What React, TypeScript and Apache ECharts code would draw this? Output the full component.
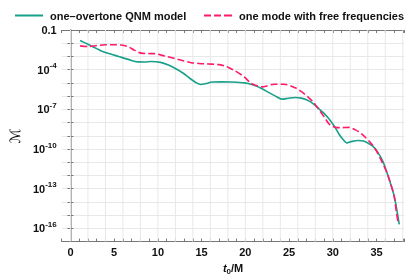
import React, { useEffect, useRef } from 'react';
import * as echarts from 'echarts';

// ---------- data (t0/M, log10 of mismatch) ----------
const tealT = [1.1, 2.0, 3.0, 3.6, 4.5, 5.5, 6.6, 7.7, 8.5, 9.2, 10.3, 11.2, 12.1, 12.9, 13.6, 14.3, 14.9, 15.5, 16.2, 17.3, 18.4, 19.9, 21.0, 21.8, 22.5, 23.4, 24.2, 24.9, 25.7, 26.4, 27.0, 27.7, 28.3, 29.0, 29.6, 30.2, 30.7, 31.2, 31.6, 32.2, 32.9, 33.5, 34.0, 34.6, 35.1, 35.7, 36.2, 36.6, 37.0, 37.3, 37.6];
const tealLog = [-1.79, -2.08, -2.41, -2.6, -2.8, -3.0, -3.22, -3.41, -3.42, -3.38, -3.45, -3.65, -3.95, -4.27, -4.63, -4.95, -5.12, -5.05, -4.93, -4.92, -4.93, -5.0, -5.17, -5.4, -5.66, -5.98, -6.23, -6.16, -6.1, -6.15, -6.28, -6.55, -6.89, -7.3, -7.75, -8.3, -8.86, -9.3, -9.54, -9.42, -9.35, -9.4, -9.54, -9.8, -10.2, -10.9, -11.8, -12.6, -13.5, -14.5, -15.7];

const pinkT = [1.1, 2.1, 3.0, 4.0, 5.0, 5.8, 6.6, 7.3, 8.1, 8.9, 9.6, 10.3, 11.0, 12.0, 12.9, 13.8, 14.7, 15.8, 17.0, 17.8, 18.4, 18.8, 19.9, 20.7, 22.0, 23.3, 24.4, 25.7, 26.5, 27.3, 27.9, 28.4, 29.0, 29.6, 30.3, 31.0, 31.8, 32.6, 33.3, 34.4, 35.0, 35.5, 36.2, 36.6, 37.0, 37.3, 37.45];
const pinkLog = [-2.2, -2.25, -2.17, -2.12, -2.11, -2.14, -2.27, -2.52, -2.75, -2.78, -2.79, -2.88, -3.0, -3.17, -3.33, -3.47, -3.53, -3.57, -3.62, -3.75, -3.95, -4.07, -4.56, -5.05, -5.3, -5.1, -5.1, -5.37, -5.7, -6.15, -6.55, -7.0, -7.55, -8.12, -8.36, -8.38, -8.36, -8.55, -8.86, -9.59, -10.15, -10.8, -11.8, -12.6, -13.5, -14.9, -15.45];

const xTickLabels = [0, 5, 10, 15, 20, 25, 30, 35];
const yLabelExps = [-1, -4, -7, -10, -13, -16];
const gridXs = [0, 2, 4, 6, 8, 10, 12, 14, 16, 18, 20, 22, 24, 26, 28, 30, 32, 34, 36, 38];

const seriesNames = ['one\u2013overtone QNM model', 'one mode with free frequencies'];

const TEAL = '#17a08a';
const PINK = '#ff1a6c';
const FONT = '"Liberation Sans", Arial, sans-serif';
const TXT = '#111';
const AX = '#777';
const GRID = '#e8e8e8';

export default function App() {
  const ref = useRef<HTMLDivElement>(null);
  useEffect(() => {
    const chart = echarts.init(ref.current!, null, { renderer: 'svg' });
    const xBase = {
      type: 'value' as const,
      min: -1,
      max: 38.2,
      interval: 1,
      axisLine: { show: true, lineStyle: { color: AX, width: 1 } },
      axisTick: { show: true, inside: true, length: 3, lineStyle: { color: AX } },
      splitLine: { show: false },
    };
    const yBase = {
      type: 'value' as const,
      min: -17,
      max: -1,
      interval: 1,
      axisLine: { show: true, lineStyle: { color: AX, width: 1 } },
      axisTick: { show: true, inside: true, length: 3, lineStyle: { color: AX } },
    };
    const legendText = { fontFamily: FONT, fontSize: 11, fontWeight: 'bold', color: TXT, padding: [0, 0, 0, 2] };
    const option: any = {
      animation: false,
      grid: { left: 51.7, right: 10.5, top: 30, bottom: 32.7, containLabel: false },
      legend: [
        {
          left: 10, top: 5, itemWidth: 28, itemHeight: 2, selectedMode: false,
          icon: 'path://M0,0h28v2h-28z',
          data: [seriesNames[0]],
          textStyle: legendText,
        },
        {
          left: 199, top: 5, itemWidth: 28, itemHeight: 2, selectedMode: false,
          icon: 'path://M0,0h7v2h-7zM10,0h7v2h-7zM20,0h8v2h-8z',
          data: [seriesNames[1]],
          textStyle: legendText,
        },
      ],
      xAxis: [
        {
          ...xBase,
          position: 'bottom',
          axisLabel: {
            show: true, margin: 5, fontFamily: FONT, fontSize: 11, fontWeight: 'bold', color: TXT,
            formatter: (v: number) => (xTickLabels.includes(Math.round(v)) && Math.abs(v - Math.round(v)) < 1e-6 ? String(Math.round(v)) : ''),
          },
          name: '{i|t}{sub|0}{n|/M}',
          nameLocation: 'middle',
          nameGap: 18,
          nameTextStyle: {
            rich: {
              i: { fontFamily: FONT, fontSize: 11, fontWeight: 'bold', fontStyle: 'italic', color: TXT, lineHeight: 14 },
              sub: { fontFamily: FONT, fontSize: 8, fontWeight: 'bold', color: TXT, lineHeight: 8, verticalAlign: 'bottom' },
              n: { fontFamily: FONT, fontSize: 11, fontWeight: 'bold', color: TXT, lineHeight: 14 },
            },
          },
        },
        { ...xBase, position: 'top', axisLabel: { show: false } },
      ],
      yAxis: [
        {
          ...yBase,
          position: 'left',
          splitLine: { show: true, lineStyle: { color: GRID, width: 1 } },
          axisLabel: {
            show: true, margin: 5,
            formatter: (v: number) => {
              const n = Math.round(v);
              if (!yLabelExps.includes(n)) return '';
              if (n === -1) return '{b|0.1}';
              return `{b|10}{s|${'-' + Math.abs(n)}}`;
            },
            rich: {
              b: { fontFamily: FONT, fontSize: 11, fontWeight: 'bold', color: TXT, lineHeight: 16 },
              s: { fontFamily: FONT, fontSize: 8, fontWeight: 'bold', color: TXT, lineHeight: 8, verticalAlign: 'top' },
            },
          },
          name: '\u2133',
          nameLocation: 'middle',
          nameGap: 33,
          nameTextStyle: { fontFamily: '"DejaVu Sans", serif', fontSize: 14, color: TXT },
        },
        { ...yBase, position: 'right', splitLine: { show: false }, axisLabel: { show: false }, axisLine: { show: true, lineStyle: { color: '#999', width: 1.5 } } },
      ],
      series: [
        {
          type: 'custom',
          name: '__grid',
          silent: true,
          z: 1,
          data: gridXs.map((x) => [x]),
          encode: { x: 0 },
          renderItem: (params: any, api: any) => {
            const p0 = api.coord([api.value(0), -17]);
            const p1 = api.coord([api.value(0), -1]);
            return {
              type: 'line',
              shape: { x1: p0[0], y1: p0[1], x2: p1[0], y2: p1[1] },
              style: { stroke: GRID, lineWidth: 1 },
            };
          },
        },
        {
          type: 'line',
          name: seriesNames[0],
          data: tealT.map((t, i) => [t, tealLog[i]]),
          symbol: 'none',
          showSymbol: false,
          smooth: 0.3,
          z: 3,
          lineStyle: { color: TEAL, width: 1.6 },
          itemStyle: { color: TEAL },
        },
        {
          type: 'line',
          name: seriesNames[1],
          data: pinkT.map((t, i) => [t, pinkLog[i]]),
          symbol: 'none',
          showSymbol: false,
          smooth: 0.3,
          z: 4,
          lineStyle: { color: PINK, width: 1.6, type: [7, 3] },
          itemStyle: { color: PINK },
        },
      ],
    };
    chart.setOption(option);
    return () => chart.dispose();
  }, []);
  return <div ref={ref} style={{ position: 'fixed', left: 0, top: 0, width: 415, height: 280 }} />;
}
